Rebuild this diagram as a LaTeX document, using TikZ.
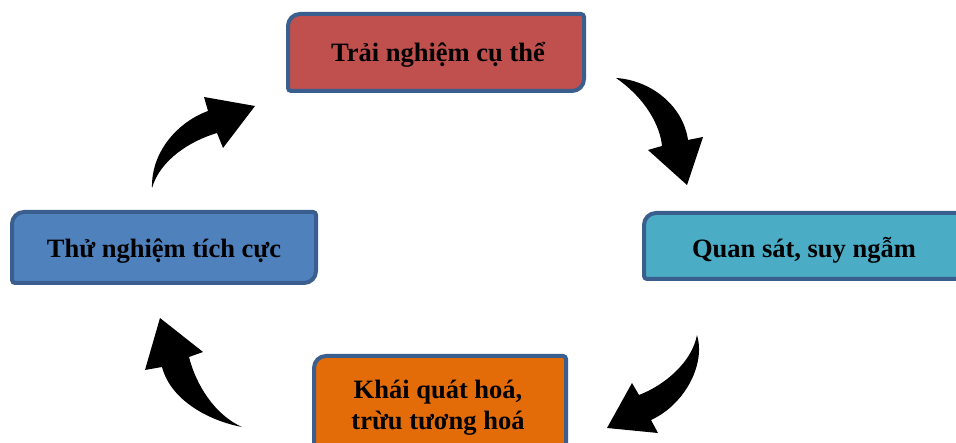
\documentclass[tikz,border=0pt]{standalone}
\usepackage{fontspec}
\setmainfont{Liberation Serif}
\definecolor{bordc}{HTML}{3A5F8E}
\definecolor{redf}{HTML}{C0504D}
\definecolor{cyanf}{HTML}{4BACC6}
\definecolor{orangef}{HTML}{E36C09}
\definecolor{bluef}{HTML}{4F81BD}
\tikzset{
  boxline/.style={draw=bordc, line width=4pt},
  lbl/.style={font=\fontsize{26.5}{30}\selectfont\bfseries, text=black, align=center, inner sep=0pt, anchor=base},
  blockarrow/.style={fill=black, draw=none}
}
\newcommand{\diagbox}[5]{% x1 y1 x2 y2 colour
  \draw[boxline, fill=#5] (#1,{(#2+#4)/2}) [rounded corners=12pt] -- (#1,#2) [rounded corners=3pt] -- (#3,#2) [rounded corners=12pt] -- (#3,#4) [rounded corners=3pt] -- (#1,#4) -- cycle;
}
\begin{document}
\begin{tikzpicture}[x=1pt,y=-1pt]
\useasboundingbox (0,0) rectangle (956,443);
\clip (0,0) rectangle (956,443);
% boxes
\diagbox{288}{14}{584}{91}{redf}
\diagbox{644}{213}{990}{279}{cyanf}
\diagbox{314}{356}{566}{470}{orangef}
\diagbox{12}{212}{316}{283}{bluef}
% labels
\node[lbl] (top) at (438,62) {Trải nghiệm cụ thể};
\node[lbl] (right) at (804,258) {Quan sát, suy ngẫm};
\node[lbl] (bottom) at (438,429) {Khái quát hoá,\\trừu tương hoá};
\node[lbl] (left) at (164,258) {Thử nghiệm tích cực};
% arrows
\fill[blockarrow] (616,78) .. controls (650,80) and (683,105) .. (688,140) -- (703,137) -- (687,185) -- (648,150) -- (662,146) .. controls (660,125) and (645,98) .. (616,78) -- cycle;
\fill[blockarrow] (697,335) .. controls (706,365) and (684,405) .. (651,420) -- (658,433) -- (607,428) -- (632,383) -- (639,395) .. controls (665,385) and (692,362) .. (697,335) -- cycle;
\fill[blockarrow] (242,427) .. controls (215,415) and (196,385) .. (189,357) -- (203,352) -- (160,318) -- (145,370) -- (162,367) .. controls (171,401) and (210,421) .. (242,427) -- cycle;
\fill[blockarrow] (152,188) .. controls (151,150) and (180,121) .. (208,111) -- (204,97) -- (255,106) -- (223,148) -- (217,133) .. controls (190,141) and (160,160) .. (152,188) -- cycle;
\end{tikzpicture}
\end{document}
